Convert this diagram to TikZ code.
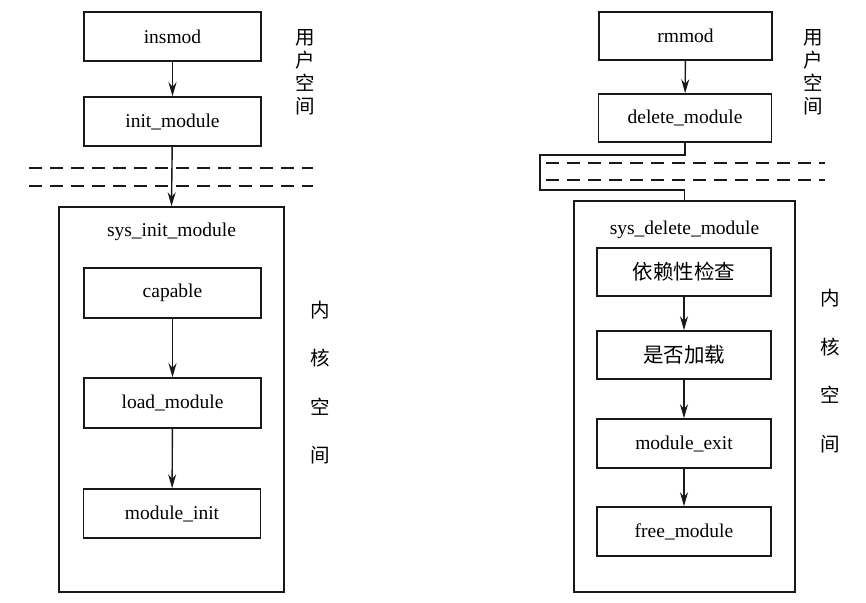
\documentclass[tikz,border=0pt]{standalone}
\usepackage{fontspec}
\setmainfont{Liberation Serif}
\newfontfamily\cjk{Noto Sans CJK SC}
\usetikzlibrary{arrows.meta}
\begin{document}
\begin{tikzpicture}[x=1pt,y=-1pt,
  every node/.style={inner sep=0pt, text=black},
  box/.style={draw=black!90, line width=1.5pt, minimum width=177pt, minimum height=49pt, font=\fontsize{19.5}{22}\selectfont},
  boxr/.style={box, minimum width=173pt, minimum height=48pt},
  outer/.style={draw=black!90, line width=1.5pt},
  lbl/.style={font=\fontsize{19.5}{22}\selectfont},
  side/.style={align=center, font=\cjk\fontsize{19.5}{23}\selectfont},
  sidek/.style={align=center, font=\cjk\fontsize{19.5}{48.5}\selectfont},
  arr/.style={draw=black!90, line width=1.4pt, -{Stealth[length=14pt,width=8pt]}},
  con/.style={draw=black!90, line width=1.4pt},
  dline/.style={draw=black!90, line width=1.6pt, dash pattern=on 13pt off 8pt}
]
\useasboundingbox (0,0) rectangle (866,602);
\fill[white] (0,0) rectangle (866,602);

% ---------- left ----------
\node[box] (ins) at (172.5,36.5) {insmod};
\node[box] (initm) at (172.5,121.5) {init\_module};
\node[outer, minimum width=225pt, minimum height=385pt] (sysL) at (171.5,399.5) {};
\node[lbl] (sysLt) at (171.5,232) {sys\_init\_module};
\node[box, minimum height=50pt] (cap) at (172.5,293) {capable};
\node[box, minimum height=50pt] (load) at (172.5,403) {load\_module};
\node[box] (minit) at (172,513.5) {module\_init};

\coordinate (dl1a) at (29,168); \coordinate (dl1b) at (313,168);
\coordinate (dl2a) at (29,186); \coordinate (dl2b) at (313,186);
\draw[dline] (dl1a) -- (dl1b);
\draw[dline] (dl2a) -- (dl2b);

\draw[arr] (ins) -- (initm);
\draw[arr] (initm) -- (sysL.north);
\draw[arr] (cap) -- (load);
\draw[arr] (load) -- (minit);

\node[side] (uL) at (305,72) {用\\户\\空\\间};
\node[sidek] (kL) at (320,382.5) {内\\核\\空\\间};

% ---------- right ----------
\node[boxr] (rm) at (685.5,36) {rmmod};
\node[boxr] (del) at (685,118) {delete\_module};
\node[outer, minimum width=221pt, minimum height=391pt] (sysR) at (684.5,396.5) {};
\node[lbl] (sysRt) at (684.5,230) {sys\_delete\_module};
\node[boxr, minimum width=174pt, font=\cjk\fontsize{20.5}{23}\selectfont] (dep) at (684,272) {依赖性检查};
\node[boxr, minimum width=174pt, font=\cjk\fontsize{20.5}{23}\selectfont] (isl) at (684,355) {是否加载};
\node[boxr, minimum width=174pt, minimum height=49pt] (mexit) at (684,443.5) {module\_exit};
\node[boxr, minimum width=174pt, minimum height=49pt] (free) at (684,531.5) {free\_module};

\coordinate (dr1a) at (546,163); \coordinate (dr1b) at (825,163);
\coordinate (dr2a) at (546,180); \coordinate (dr2b) at (825,180);
\draw[dline] (dr1a) -- (dr1b);
\draw[dline] (dr2a) -- (dr2b);

\coordinate (c1) at (540,155);
\coordinate (c2) at (540,190);
\draw[arr] (rm) -- (del);
\draw[con] (del.south) |- (c1) -- (c2) -| (sysR.north);
\draw[arr] (dep) -- (isl);
\draw[arr] (isl) -- (mexit);
\draw[arr] (mexit) -- (free);

\node[side] (uR) at (813,72) {用\\户\\空\\间};
\node[sidek] (kR) at (830,371) {内\\核\\空\\间};
\end{tikzpicture}
\end{document}
